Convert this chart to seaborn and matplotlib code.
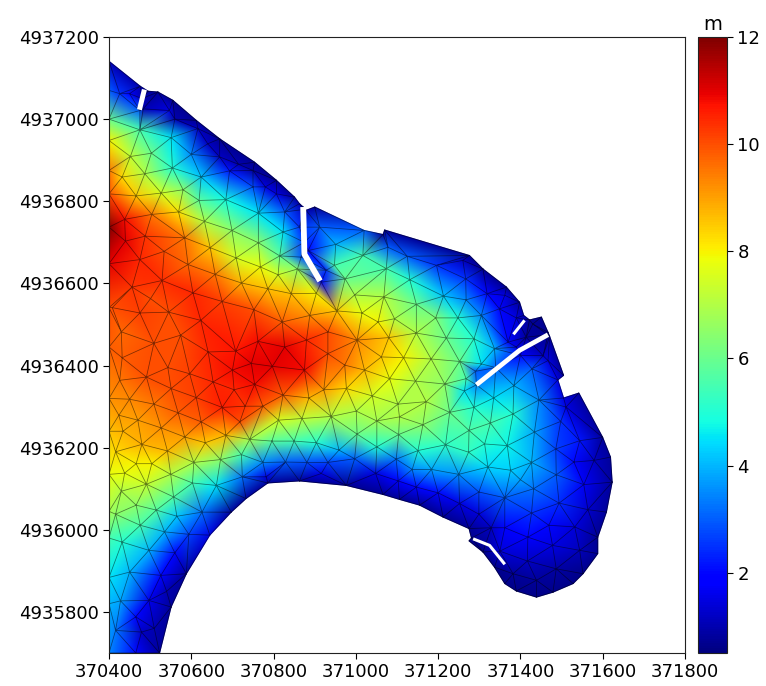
import numpy as np
import matplotlib
matplotlib.use("Agg")
import matplotlib.pyplot as plt
import matplotlib.tri as mtri
from matplotlib.path import Path
import seaborn as sns

sns.set_style("ticks")
plt.rcParams["font.family"] = ["DejaVu Sans"]
plt.rcParams["text.color"] = "black"
plt.rcParams["xtick.color"] = "black"
plt.rcParams["ytick.color"] = "black"
plt.rcParams["axes.edgecolor"] = "#222222"

EAST0 = 370000
NORTH0 = 4930000

# boundary of the basin (offset metres) and depth
bnd_x = [400, 476, 495, 519, 555, 612, 669, 754, 807, 851, 863, 872, 879, 900, 1066, 1070,
         1276, 1309, 1366, 1398, 1408, 1422, 1451, 1467, 1471, 1505, 1491, 1505, 1542, 1600,
         1619, 1623, 1609, 1588, 1588, 1552, 1528, 1479, 1439, 1390, 1362, 1337, 1309, 1275,
         1281, 1275, 1212, 1155, 1106, 1066, 977, 863, 786, 733, 697, 588, 551, 523, 400]
bnd_y = [7141, 7080, 7068, 7066, 7046, 6997, 6952, 6895, 6851, 6810, 6794, 6786, 6778, 6786, 6719, 6730,
         6668, 6635, 6591, 6554, 6522, 6511, 6518, 6481, 6471, 6376, 6365, 6321, 6333, 6225,
         6177, 6116, 6043, 5982, 5942, 5893, 5869, 5848, 5836, 5851, 5869, 5909, 5946, 5973,
         5980, 6003, 6031, 6060, 6074, 6086, 6108, 6119, 6114, 6076, 6043, 5893, 5812, 5700, 5700]
bnd_z = [1.0, 1.0, 0.8, 0.8, 0.7, 0.7, 0.7, 0.7, 0.7, 0.8, 1.0, 1.2, 1.0, 0.8, 0.8, 0.8,
         0.7, 0.7, 0.7, 0.8, 1.0, 0.7, 0.7, 0.7, 0.8, 0.8, 1.5, 1.5, 0.9, 0.8,
         0.8, 0.8, 0.8, 0.7, 0.7, 0.6, 0.6, 0.6, 0.6, 0.6, 0.6, 0.6, 0.6, 0.6,
         0.7, 0.7, 0.7, 0.7, 0.7, 0.7, 0.7, 0.7, 0.8, 0.8, 0.8, 0.8, 0.8, 0.8, 3.5]

# interior mesh nodes, southern half of the west part
south_x = [430, 509, 574, 641, 708, 762, 827, 880, 932, 1003, 1080, 432, 543, 596, 491, 426, 653, 700, 746, 797,
           754, 875, 932, 973, 1021, 1082, 1062, 551, 612, 704, 823, 886, 922, 977, 1040, 1102, 450, 509, 568, 675,
           731, 774, 424, 470, 527, 624, 718, 812, 869, 940, 1001, 1051, 1106, 434, 480, 584, 684, 742, 796, 850,
           904, 1003, 1104, 1051, 959, 416, 542, 634, 606, 671, 722, 466, 504, 774, 829, 881, 932, 997, 1098, 438,
           550, 724, 782, 916, 1048, 491, 430, 603, 661, 557, 466, 515, 416, 626, 565, 476, 535, 594, 645, 432,
           497, 560, 450, 526, 428, 497, 465, 416, 479]
south_y = [6482, 6454, 6474, 6433, 6435, 6459, 6445, 6462, 6482, 6462, 6468, 6419, 6395, 6380, 6372, 6364, 6360, 6389, 6405, 6398,
           6354, 6389, 6429, 6401, 6389, 6368, 6421, 6344, 6322, 6341, 6328, 6321, 6341, 6344, 6326, 6306, 6318, 6306, 6285, 6298,
           6301, 6301, 6279, 6267, 6248, 6263, 6263, 6267, 6271, 6276, 6289, 6265, 6275, 6240, 6208, 6226, 6230, 6220, 6216, 6216,
           6212, 6233, 6232, 6202, 6194, 6190, 6192, 6212, 6164, 6171, 6183, 6161, 6161, 6164, 6165, 6164, 6164, 6173, 6172, 6138,
           6135, 6129, 6129, 6137, 6137, 6111, 6094, 6114, 6108, 6080, 6060, 6048, 6038, 6043, 6033, 6011, 5995, 5989, 5987, 5970,
           5950, 5944, 5897, 5889, 5827, 5828, 5788, 5755, 5751]
south_z = [9.7, 10, 10, 10.5, 10.7, 10.8, 11, 10.5, 10, 9.3, 8.5, 9.8, 10, 10.2, 10, 9.5, 10.5, 10.8, 11, 11,
           10.8, 10.8, 10, 9.5, 8.7, 7.8, 8.5, 10, 10.2, 10.5, 9.8, 8.7, 9, 8.3, 7.5, 7, 9.3, 9.5, 9.8, 10.6,
           10.3, 9.8, 9, 9, 9.2, 9.8, 10, 7.5, 7.2, 7, 7, 6.8, 7, 8.8, 8.8, 9, 8.7, 6.8, 5.8, 5.5,
           5, 6, 6, 5, 4, 8.3, 8.7, 8.5, 7, 6.5, 5.5, 8, 8, 3.5, 3, 2.8, 2.7, 3, 3.2, 7.8,
           7, 3.2, 1.5, 1.5, 1.5, 7.3, 7, 5.5, 4.5, 5.7, 6.5, 5.7, 6.5, 3.2, 4.2, 5.5, 4, 2.7, 1.5, 5,
           4, 2, 4, 2, 3.8, 1.6, 2, 3.3, 1.2]

# nodes on the west edge of the domain and on the bottom edge
edge_x = [400, 400, 400, 400, 400, 400, 400, 400, 400, 400, 400, 400, 400, 400, 400, 400, 465]
edge_y = [7070, 7000, 6948, 6875, 6818, 6737, 6648, 6541, 6445, 6320, 6240, 6135, 6045, 5980, 5884, 5820, 5700]
edge_z = [3, 6, 8, 9.5, 10, 12, 11, 10, 9.8, 9.2, 8.6, 7.8, 6.8, 5.5, 4.5, 4, 2]

# interior mesh nodes, northern half of the west part
north_x = [475, 551, 452, 503, 600, 554, 624, 693, 432, 487, 527, 580, 619, 684, 750, 466, 438, 504, 569, 632,
           699, 763, 823, 488, 584, 646, 763, 709, 815, 440, 534, 475, 592, 658, 768, 858, 811, 722, 456, 529,
           604, 786, 843, 904, 501, 675, 752, 408, 475, 545, 623, 821, 888, 954, 1015, 1068, 1094, 997, 974, 948,
           1017, 1074, 951, 912, 1020, 1078, 916, 867, 884, 928, 426, 450, 483, 547, 616, 669, 750, 807, 827, 863,
           475, 875, 873, 480, 560, 640, 715, 780, 510, 540]
north_y = [6974, 6955, 6909, 6917, 6914, 6881, 6859, 6874, 6859, 6867, 6820, 6828, 6802, 6804, 6835, 6813, 6756, 6768, 6774, 6751,
           6729, 6771, 6725, 6715, 6711, 6687, 6699, 6662, 6667, 6703, 6678, 6658, 6646, 6622, 6640, 6635, 6621, 6601, 6591, 6607,
           6577, 6587, 6575, 6576, 6563, 6556, 6536, 6541, 6528, 6530, 6510, 6506, 6522, 6533, 6528, 6567, 6514, 6572, 6611, 6644,
           6668, 6636, 6695, 6737, 6729, 6688, 6603, 6664, 6680, 6632, 7062, 7062, 7025, 7021, 6977, 6908, 6875, 6818, 6774, 6737,
           7021, 6700, 6780, 7050, 7000, 6940, 6890, 6835, 5760, 5850]
north_z = [5.5, 4.5, 7.2, 6, 3.5, 5, 4.2, 2.2, 8.3, 7, 7.5, 6.5, 5.8, 4.8, 2.8, 8.5, 10.8, 9.5, 8.2, 7,
           6.5, 4.5, 4.5, 10.3, 9.5, 8.5, 6.5, 7.5, 5.8, 11, 10, 10.5, 9.7, 9.5, 7.8, 6.5, 7.5, 8.8, 10.3, 10.4,
           10.5, 8.6, 8.6, 8, 10, 10.2, 10, 10, 10.2, 10, 10.5, 9.8, 9.2, 8.5, 7.8, 7, 7, 7, 6, 5.5,
           5.5, 5.5, 4, 3, 3, 3, 2, 3, 2, 2.5, 2.5, 1.8, 1, 1.5, 1.2, 1.2, 0.9, 1.5, 3, 2.5,
           3, 2.5, 1.2, 1, 1, 1.2, 1, 1.5, 1, 1]

# interior mesh nodes, east part
east_x = [1125, 1196, 1131, 1147, 1213, 1267, 1268, 1319, 1362, 1260, 1349, 1305, 1248, 1194, 1054, 1147, 1220, 1287, 1337, 1390,
          1370, 1116, 1183, 1252, 1305, 1145, 1216, 1268, 1291, 1171, 1264, 1228, 1287, 1335, 1384, 1428, 1467, 1445, 1382, 1327,
          1275, 1163, 1498, 1434, 1544, 1486, 1368, 1313, 1218, 1151, 1274, 1455, 1430, 1390, 1414, 1511, 1340, 1293, 1467, 1400,
          1321, 1250, 1184, 1137, 1376, 1427, 1530, 1579, 1487, 1400, 1554, 1432, 1299, 1362, 1200, 1147, 1103, 1252, 1494, 1564,
          1427, 1299, 1469, 1532, 1362, 1329, 1418, 1478, 1544, 1350, 1417, 1487, 1382, 1439]
east_y = [6666, 6644, 6609, 6549, 6569, 6611, 6560, 6575, 6571, 6656, 6538, 6522, 6516, 6516, 6506, 6479, 6467, 6465, 6441, 6516,
          6457, 6419, 6416, 6410, 6404, 6362, 6355, 6368, 6386, 6312, 6338, 6286, 6298, 6321, 6351, 6392, 6412, 6316, 6282, 6260,
          6242, 6256, 6264, 6238, 6217, 6197, 6205, 6209, 6207, 6193, 6189, 6424, 6501, 6445, 6469, 6299, 6395, 6353, 6475, 6425,
          6153, 6135, 6147, 6147, 6145, 6164, 6165, 6169, 6134, 6122, 6110, 6100, 6092, 6078, 6090, 6104, 6119, 6064, 6065, 6049,
          6041, 6038, 6011, 6007, 6005, 6005, 5982, 5962, 5950, 5948, 5924, 5905, 5893, 5877]
east_z = [3, 2.5, 5, 6, 4.2, 2.5, 3.5, 2, 1.5, 1.2, 2, 3.5, 5, 6.3, 8, 7, 6, 5, 4, 1.5,
          2, 8, 7, 6, 4.5, 7, 6.5, 5.5, 3, 7, 4.5, 6, 5, 4.5, 4, 3, 1.5, 3.5, 5, 5.5,
          5.6, 6.5, 2.5, 3.8, 2.2, 2.7, 4.7, 5, 5.2, 5, 5.2, 1.2, 0.8, 1.5, 0.8, 1.5, 3, 3.5, 0.7, 2,
          4.4, 3.6, 3.8, 3.5, 4.3, 4, 2, 1.2, 3, 3.8, 1.7, 3.2, 2.8, 3, 2, 2, 1.8, 1.5, 2.4, 1.3,
          2.5, 1.4, 2, 1.4, 1.8, 1.2, 1.8, 1.5, 1.1, 1.4, 1.2, 0.9, 0.8, 0.8]

# breakwaters, white gaps in the mesh
pier_x = [[486, 474], [872, 875, 913], [1410, 1383], [1467, 1398, 1293], [1285, 1325, 1362]]
pier_y = [[7072, 7023], [6786, 6671, 6606], [6510, 6476], [6475, 6437, 6353], [5978, 5962, 5916]]
pier_w = [3.6, 4.2, 2.2, 3.4, 2.2]

x_ticks = np.arange(370400, 371801, 200)
y_ticks = np.arange(4935800, 4937201, 200)
cbar_ticks = [2, 4, 6, 8, 10, 12]

x = np.array(bnd_x + south_x + edge_x + north_x + east_x, dtype=float) + EAST0
y = np.array(bnd_y + south_y + edge_y + north_y + east_y, dtype=float) + NORTH0
z = np.array(bnd_z + south_z + edge_z + north_z + east_z, dtype=float)

tri = mtri.Triangulation(x, y)
outline = Path(np.column_stack([np.array(bnd_x) + EAST0, np.array(bnd_y) + NORTH0]))
centers = np.column_stack([x[tri.triangles].mean(axis=1), y[tri.triangles].mean(axis=1)])
tri.set_mask(~outline.contains_points(centers))

fig = plt.figure(figsize=(7.66, 6.86), dpi=100)
ax = fig.add_axes([109 / 766, 1 - 653 / 686, 576 / 766, 616 / 686])
cax = fig.add_axes([698 / 766, 1 - 653 / 686, 29 / 766, 616 / 686])

mesh = ax.tripcolor(tri, z, shading="gouraud", cmap="jet", vmin=0.5, vmax=12)
ax.triplot(tri, color="black", lw=0.55, alpha=0.5)

for px, py, w in zip(pier_x, pier_y, pier_w):
    ax.plot(np.array(px) + EAST0, np.array(py) + NORTH0, color="white", lw=w, solid_capstyle="butt")

ax.set_xlim(370400, 371800)
ax.set_ylim(4935700, 4937200)
ax.set_xticks(x_ticks)
ax.set_yticks(y_ticks)
ax.ticklabel_format(useOffset=False, style="plain")
ax.tick_params(labelsize=13, length=4)

cb = fig.colorbar(mesh, cax=cax, ticks=cbar_ticks)
cb.ax.tick_params(labelsize=13, length=4)
cax.set_title("m", fontsize=14, pad=5)

fig.savefig("out.png", dpi=100)
